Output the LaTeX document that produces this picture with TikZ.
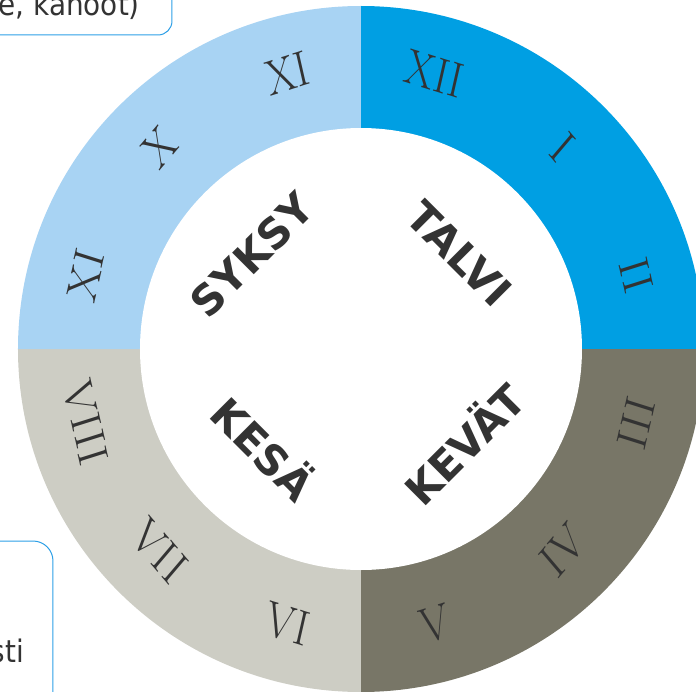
\documentclass[tikz,border=0pt]{standalone}
\usepackage{fontspec}
\newfontfamily\seasonfont{DejaVu Sans}
\usetikzlibrary{calc}

\definecolor{winterblue}{HTML}{009FE3}
\definecolor{autumnblue}{HTML}{A8D3F3}
\definecolor{summergrey}{HTML}{CDCDC4}
\definecolor{springgrey}{HTML}{787667}
\definecolor{boxblue}{HTML}{2C9FE6}
\definecolor{textgrey}{HTML}{333333}

\begin{document}
\begin{tikzpicture}[x=1pt,y=1pt,
  month/.style={font=\fontsize{50}{50}\selectfont, text=black!80, inner sep=0pt, xscale=0.85},
  season/.style={font=\seasonfont\bfseries\fontsize{42}{42}\selectfont, text=textgrey, inner sep=0pt},
  infobox/.style={draw=boxblue, line width=1pt},
  boxtext/.style={font=\seasonfont\fontsize{31}{31}\selectfont, text=textgrey, inner sep=0pt, xscale=0.9}]
\useasboundingbox (-361,-342) rectangle (335,349);
\clip (-361,-342) rectangle (335,349);

% the four quarters of the year
\fill[winterblue] (0,0) -- (0,343) arc (90:0:343) -- cycle;
\fill[springgrey] (0,0) -- (343,0) arc (0:-90:343) -- cycle;
\fill[summergrey] (0,0) -- (0,-343) arc (-90:-180:343) -- cycle;
\fill[autumnblue] (0,0) -- (-343,0) arc (180:90:343) -- cycle;
\fill[white] (0,0) circle (221);

% months
\foreach \ang/\txt/\rot in {75/XII/-15, 45/I/-45, 15/II/-75, -15/III/75, -45/IV/45, -75/V/15,
    -105/VI/-15, -135/VII/-45, -165/VIII/-75, 165/XI/75, 135/X/45, 105/XI/15}
  \node[month, rotate=\rot] (m\ang) at (\ang:285) {\txt};

% seasons
\node[season, rotate=45] (syksy) at (-109,94) {SYKSY};
\node[season, rotate=-45] (talvi) at (98,95) {TALVI};
\node[season, rotate=-45] (kesa) at (-96,-98) {KESÄ};
\node[season, rotate=45] (kevat) at (101,-93) {KEVÄT};

% boxes at the edges
\draw[infobox, rounded corners=14pt] (-400,314) -- (-189,314) -- (-189,380);
\draw[infobox, rounded corners=20pt] (-400,-192) -- (-308,-192) -- (-308,-400);
\node[boxtext, anchor=base east] (kanoot) at (-221,333) {e, kanoot)};
\node[boxtext, anchor=base east] (sti) at (-337,-313) {sti};
\end{tikzpicture}
\end{document}
